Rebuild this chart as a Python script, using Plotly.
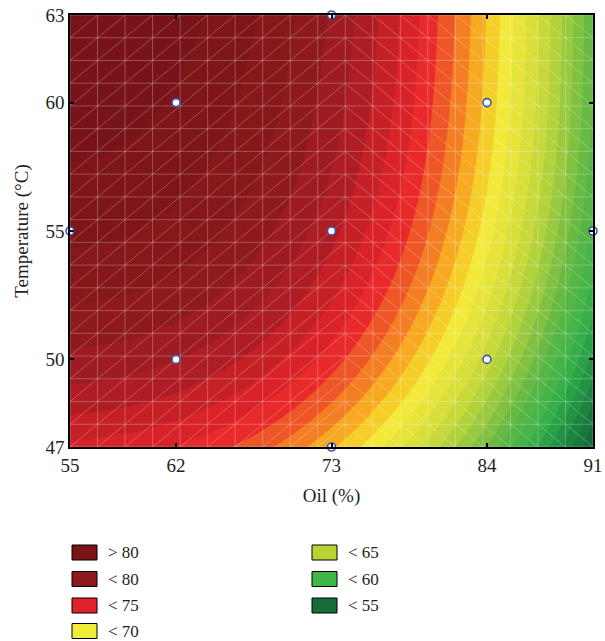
import numpy as np
import plotly.graph_objects as go

# ---------------- data ----------------
oil_ticks = [55, 62, 73, 84, 91]            # real tick values (Oil %)
temp_ticks = [47, 50, 55, 60, 63]           # real tick values (Temperature °C)
coded_levels = [-1.682, -1, 0, 1, 1.682]    # coded design levels for the ticks
oil_tick_text = ["55", "62", "73", "84", "91"]
temp_tick_text = ["47", "50", "55", "60", "63"]

# design points (real units), drawn as open circles
pts_oil = [62, 84, 62, 84, 55, 91, 73, 73, 73]
pts_temp = [50, 50, 60, 60, 55, 55, 47, 63, 55]

read_oil = [85.9, 85.3, 83.6, 81.25, 78.5, 75.9,
            82.9, 82.7, 81.1, 77.1, 72.1,
            79.6, 79.4, 77.3, 70.8, 62.2,
            88.4, 87.8, 86.05, 81.0,
            55, 55, 55, 55, 55,
            73, 73, 73, 73, 73,
            91, 91, 91,
            62, 84, 62]
read_temp = [63, 60, 55, 50, 48.35, 47,
             63, 60, 55, 50, 47,
             63, 60, 55, 50, 47,
             63, 55, 50, 47,
             63, 60, 55, 50, 47,
             63, 60, 55, 50, 47,
             63, 55, 47,
             50, 50, 60]
read_resp = [69.5, 69.5, 69.5, 69.5, 69.5, 69.5,
             72.2, 72.2, 72.2, 72.2, 72.2,
             74.6, 74.6, 74.6, 74.6, 74.6,
             65.0, 65.0, 65.0, 65.0,
             83.0, 82.5, 81.0, 78.5, 76.0,
             78.5, 78.0, 77.5, 74.8, 71.0,
             62.3, 60.5, 54.0,
             78.5, 66.0, 82.5]

legend_labels = ["> 80", "< 80", "< 75", "< 70", "< 65", "< 60", "< 55"]
legend_colors = ["#7b1315", "#8c1a1b", "#e0232a", "#f2ec3a", "#b7d433", "#41b64b", "#156c38"]

# colour anchors of the contour bands (value -> colour)
cs_vals = [52, 54, 56, 58, 60, 62, 64, 65, 66, 68, 69.5, 71, 72.2, 73.5, 74.6, 76, 77.5, 79.5, 82, 84]
cs_cols = ["#0d5a31", "#136636", "#1a7d3e", "#249a46", "#3db54a", "#5cb646", "#8cc43f",
           "#a5cd3c", "#bfd63a", "#e0e23a", "#f2e93a", "#f8c021", "#f58a22", "#ef5627",
           "#e8262a", "#d22228", "#ae1d24", "#8e1a1d", "#7a1418", "#72131a"]

# ---------------- surface: cubic response-surface fit ----------------
def to_coded(v, ticks):
    return np.interp(v, ticks, coded_levels)

rx = to_coded(read_oil, oil_ticks)
ry = to_coded(read_temp, temp_ticks)

def basis(x, y):
    return [np.ones_like(x), x, y, x**2, y**2, x*y, x**3, x**2*y, x*y**2, y**3]

A = np.column_stack(basis(rx, ry))
coef, *_ = np.linalg.lstsq(A, np.array(read_resp), rcond=None)

xg = np.linspace(-1.682, 1.682, 220)
yg = np.linspace(-1.682, 1.682, 220)
XX, YY = np.meshgrid(xg, yg)
ZZ = sum(c * b for c, b in zip(coef, basis(XX, YY)))

zmin, zmax = cs_vals[0], cs_vals[-1]
colorscale = [[(v - zmin) / (zmax - zmin), c] for v, c in zip(cs_vals, cs_cols)]

fig = go.Figure()
fig.add_trace(go.Contour(
    x=xg, y=yg, z=ZZ, zmin=zmin, zmax=zmax, colorscale=colorscale,
    contours=dict(start=50, end=86, size=1, coloring="fill", showlines=False),
    line=dict(width=0), showscale=False, hoverinfo="skip"))

# ---------------- mesh lines (decorative wireframe) ----------------
lo, hi, n = -1.682, 1.682, 19
h = (hi - lo) / n
nodes = [lo + i*h for i in range(n + 1)]
split = nodes[10]
mx, my = [], []
for v in nodes:
    mx += [v, v, None]; my += [lo, hi, None]
    mx += [lo, hi, None]; my += [v, v, None]
for k in range(-n, n + 1):
    c = k*h
    x0, x1 = max(lo, lo - c), min(split, hi - c)
    if x1 > x0:
        mx += [x0, x1, None]; my += [x0 + c, x1 + c, None]
for k in range(0, 2*n + 1):
    c = 2*lo + k*h
    x0, x1 = max(split, c - hi), min(hi, c - lo)
    if x1 > x0:
        mx += [x0, x1, None]; my += [c - x0, c - x1, None]
fig.add_trace(go.Scatter(x=mx, y=my, mode="lines",
                         line=dict(color="rgba(255,255,255,0.25)", width=1),
                         hoverinfo="skip", showlegend=False))

# ---------------- design points ----------------
fig.add_trace(go.Scatter(x=to_coded(pts_oil, oil_ticks), y=to_coded(pts_temp, temp_ticks),
                         mode="markers", cliponaxis=False,
                         marker=dict(size=8, color="white",
                                     line=dict(color="#3a55b0", width=1.6)),
                         showlegend=False, hoverinfo="skip"))

font = "Liberation Serif"
L, R, T, B = 70, 593, 15, 447
W, H = 605, 641

axis_common = dict(showline=True, linecolor="black", linewidth=1.5, mirror="ticks",
                   ticks="inside", ticklen=4, tickwidth=1.5, tickcolor="black",
                   showgrid=False, zeroline=False,
                   tickfont=dict(family=font, size=19, color="#231f20"))

fig.update_layout(
    width=W, height=H,
    margin=dict(l=L, r=W - R, t=T, b=H - B, autoexpand=False),
    paper_bgcolor="white", plot_bgcolor="white", showlegend=False,
    xaxis=dict(range=[-1.682, 1.682], tickvals=coded_levels, ticktext=oil_tick_text,
               title=dict(text="Oil (%)", font=dict(family=font, size=19, color="#231f20"),
                          standoff=14),
               automargin=False, **axis_common),
    yaxis=dict(range=[-1.682, 1.682], tickvals=coded_levels, ticktext=temp_tick_text,
               title=dict(text="Temperature (°C)", font=dict(family=font, size=19, color="#231f20"),
                          standoff=12),
               automargin=False, **axis_common),
)

# ---------------- legend (two columns below the plot) ----------------
def px_x(p):
    return (p - L) / (R - L)

def px_y(p):
    return (B - p) / (B - T)

col_x = [72, 312]
row_y = [552.5, 579, 605.5, 631]
shapes, annos = [], []
for i, (lab, col) in enumerate(zip(legend_labels, legend_colors)):
    c = 0 if i < 4 else 1
    r = i if i < 4 else i - 4
    x0 = col_x[c]
    yc = row_y[r]
    shapes.append(dict(type="rect", xref="paper", yref="paper",
                       x0=px_x(x0), x1=px_x(x0 + 25), y0=px_y(yc + 7.5), y1=px_y(yc - 7.5),
                       fillcolor=col, line=dict(color="black", width=1)))
    annos.append(dict(xref="paper", yref="paper", x=px_x(x0 + 34), y=px_y(yc),
                      xanchor="left", yanchor="middle", showarrow=False,
                      text=lab.replace("<", "&lt;").replace(">", "&gt;"),
                      font=dict(family=font, size=17, color="#231f20")))
fig.update_layout(shapes=shapes, annotations=annos)

fig.write_html("out.html")
